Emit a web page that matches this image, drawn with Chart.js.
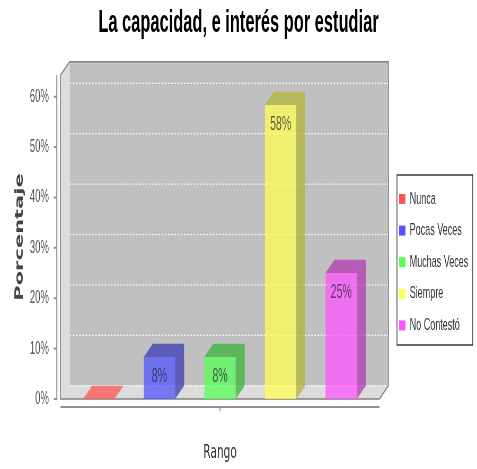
<!DOCTYPE html>
<html>
<head>
<meta charset="utf-8">
<script src="https://cdn.jsdelivr.net/npm/chart.js@4.4.1/dist/chart.umd.min.js"></script>
<style>
html, body { margin: 0; padding: 0; background: #fff; }
#grafico { display: block; }
</style>
</head>
<body>
<canvas id="grafico" width="900" height="469" style="width:477px;height:469px"></canvas>
<script>
// datos del grafico
var categorias = [''];
var series = ['Nunca', 'Pocas Veces', 'Muchas Veces', 'Siempre', 'No Contestó'];
var porcentajes = [0, 8.33, 8.33, 58.33, 25];
var colores = ['255,85,85', '85,85,255', '85,255,85', '255,255,85', '255,85,255'];
var maximo_y = 64.3;
var paso_y = 10;

// profundidad del efecto 3d (en pixeles del canvas)
var DX = 17, DY = 13.3;

function oscuro(rgb) {
    return rgb.split(',').map(function (c) { return Math.round(c * 0.7); }).join(',');
}

function poligono(ctx, puntos, relleno) {
    ctx.beginPath();
    ctx.moveTo(puntos[0][0], puntos[0][1]);
    for (var i = 1; i < puntos.length; i++) ctx.lineTo(puntos[i][0], puntos[i][1]);
    ctx.closePath();
    ctx.fillStyle = relleno;
    ctx.fill();
}

var paredes3d = {
    id: 'paredes3d',
    beforeDatasetsDraw: function (chart) {
        var a = chart.chartArea, ctx = chart.ctx, ey = chart.scales.y, ex = chart.scales.x;
        var L = a.left, R = a.right, T = a.top, B = a.bottom;
        ctx.save();
        // pared del fondo
        ctx.fillStyle = '#c0c0c0';
        ctx.fillRect(L + DX, T - DY, R - L, B - T);
        // pared izquierda y piso
        poligono(ctx, [[L, T], [L + DX, T - DY], [L + DX, B - DY], [L, B]], '#dcdcdc');
        poligono(ctx, [[L, B], [L + DX, B - DY], [R + DX, B - DY], [R, B]], '#dcdcdc');
        // lineas de grilla punteadas en el fondo
        ctx.strokeStyle = '#ffffff';
        ctx.lineWidth = 1.2;
        ctx.setLineDash([3, 3]);
        ey.ticks.forEach(function (t) {
            var py = ey.getPixelForValue(t.value) - DY;
            ctx.beginPath();
            ctx.moveTo(L + DX, py);
            ctx.lineTo(R + DX, py);
            ctx.stroke();
        });
        ctx.setLineDash([]);
        // contorno
        ctx.strokeStyle = '#808080';
        ctx.lineWidth = 1.6;
        ctx.beginPath();
        ctx.moveTo(L, B);
        ctx.lineTo(L, T);
        ctx.lineTo(L + DX, T - DY);
        ctx.lineTo(R + DX, T - DY);
        ctx.lineTo(R + DX, B - DY);
        ctx.lineTo(R, B);
        ctx.closePath();
        ctx.stroke();
        // eje y
        ctx.strokeStyle = '#909090';
        ctx.lineWidth = 2;
        ctx.beginPath();
        ctx.moveTo(L - 7, T);
        ctx.lineTo(L - 7, B + 1);
        ey.ticks.forEach(function (t) {
            var py = ey.getPixelForValue(t.value);
            ctx.moveTo(L - 13, py);
            ctx.lineTo(L - 7, py);
        });
        ctx.stroke();
        // eje x
        ctx.beginPath();
        ctx.moveTo(L, B + 8);
        ctx.lineTo(R, B + 8);
        ctx.stroke();
        ctx.beginPath();
        var cx = ex.getPixelForValue(0);
        ctx.moveTo(cx, B + 9);
        ctx.lineTo(cx, B + 12);
        ctx.stroke();
        ctx.restore();
    },
    afterDatasetsDraw: function (chart) {
        var ctx = chart.ctx;
        ctx.save();
        chart.data.datasets.forEach(function (ds, i) {
            var meta = chart.getDatasetMeta(i);
            meta.data.forEach(function (bar, j) {
                var p = bar.getProps(['x', 'y', 'base', 'width'], true);
                var xl = p.x - p.width / 2, xr = p.x + p.width / 2;
                var col = colores[i];
                var alto = Math.abs(p.base - p.y);
                var cara = alto > 0.5 ? 'rgba(' + oscuro(col) + ',0.75)' : 'rgba(' + col + ',0.75)';
                // tapa superior
                poligono(ctx, [[xl, p.y], [xl + DX, p.y - DY], [xr + DX, p.y - DY], [xr, p.y]], cara);
                // costado derecho
                if (alto > 0.5) {
                    poligono(ctx, [[xr, p.y], [xr + DX, p.y - DY], [xr + DX, p.base - DY], [xr, p.base]], cara);
                }
                // etiqueta
                var v = ds.data[j];
                if (v > 0) {
                    ctx.font = '20px "Liberation Sans", Arial, sans-serif';
                    ctx.fillStyle = 'rgba(30,30,40,0.7)';
                    ctx.textAlign = 'center';
                    ctx.textBaseline = 'middle';
                    ctx.fillText(Math.round(v) + '%', p.x, p.y + 19);
                }
            });
        });
        ctx.restore();
    }
};

// caja de la leyenda a la derecha (ocupa su lugar en el layout)
var leyendaDerecha = {
    id: 'leyendaDerecha',
    beforeInit: function (chart) {
        var caja = {
            position: 'right',
            weight: 1000,
            fullSize: true,
            options: {},
            left: 0, top: 0, right: 0, bottom: 0, width: 0, height: 0,
            update: function (maxWidth, maxHeight) {
                this.width = 184;
                this.height = maxHeight;
            },
            isHorizontal: function () { return false; },
            draw: function () {
                var ctx = chart.ctx;
                var lx = this.left + 33, ly = 175, lw = 143, lh = 170;
                ctx.save();
                ctx.strokeStyle = '#444';
                ctx.lineWidth = 1.6;
                ctx.strokeRect(lx, ly, lw, lh);
                ctx.font = '17px "Liberation Sans", Arial, sans-serif';
                ctx.textBaseline = 'middle';
                ctx.textAlign = 'left';
                chart.data.datasets.forEach(function (ds, i) {
                    var cy = ly + 24 + i * 31.6;
                    ctx.fillStyle = 'rgb(' + colores[i] + ')';
                    ctx.fillRect(lx + 4, cy - 5, 12, 10);
                    ctx.fillStyle = '#333';
                    ctx.fillText(ds.label, lx + 24, cy);
                });
                ctx.restore();
            }
        };
        Chart.layouts.addBox(chart, caja);
    }
};

var datasets = series.map(function (nombre, i) {
    return {
        label: nombre,
        data: [porcentajes[i]],
        backgroundColor: 'rgba(' + colores[i] + ',0.75)',
        borderWidth: 0,
        categoryPercentage: 0.95,
        barPercentage: 0.517
    };
});

var grafico = new Chart(document.getElementById('grafico'), {
    type: 'bar',
    data: {
        labels: categorias,
        datasets: datasets
    },
    options: {
        responsive: false,
        animation: false,
        layout: {
            padding: 0
        },
        plugins: {
            legend: { display: false },
            tooltip: { enabled: false },
            title: {
                display: true,
                text: 'La capacidad, e interés por estudiar',
                color: '#000',
                font: { family: '"Liberation Sans", Arial, sans-serif', size: 31, weight: 'bold' },
                padding: { top: 5, bottom: 32.8 }
            }
        },
        scales: {
            x: {
                grid: { display: false },
                border: { display: false },
                ticks: { display: false },
                title: {
                    display: true,
                    text: 'Rango',
                    color: '#333',
                    font: { family: '"DejaVu Sans", sans-serif', size: 20 },
                    padding: { top: 34, bottom: 4 }
                }
            },
            y: {
                min: 0,
                max: maximo_y,
                grid: { display: false },
                border: { display: false },
                ticks: {
                    stepSize: paso_y,
                    includeBounds: false,
                    padding: 14,
                    color: '#555',
                    font: { family: '"Liberation Sans", Arial, sans-serif', size: 18 },
                    callback: function (v) { return v + '%'; }
                },
                title: {
                    display: true,
                    text: 'Porcentaje',
                    color: '#444',
                    font: { family: '"DejaVu Sans", sans-serif', size: 21, weight: 'bold' },
                    padding: { top: 25, bottom: -8 }
                }
            }
        }
    },
    plugins: [paredes3d, leyendaDerecha]
});
</script>
</body>
</html>
